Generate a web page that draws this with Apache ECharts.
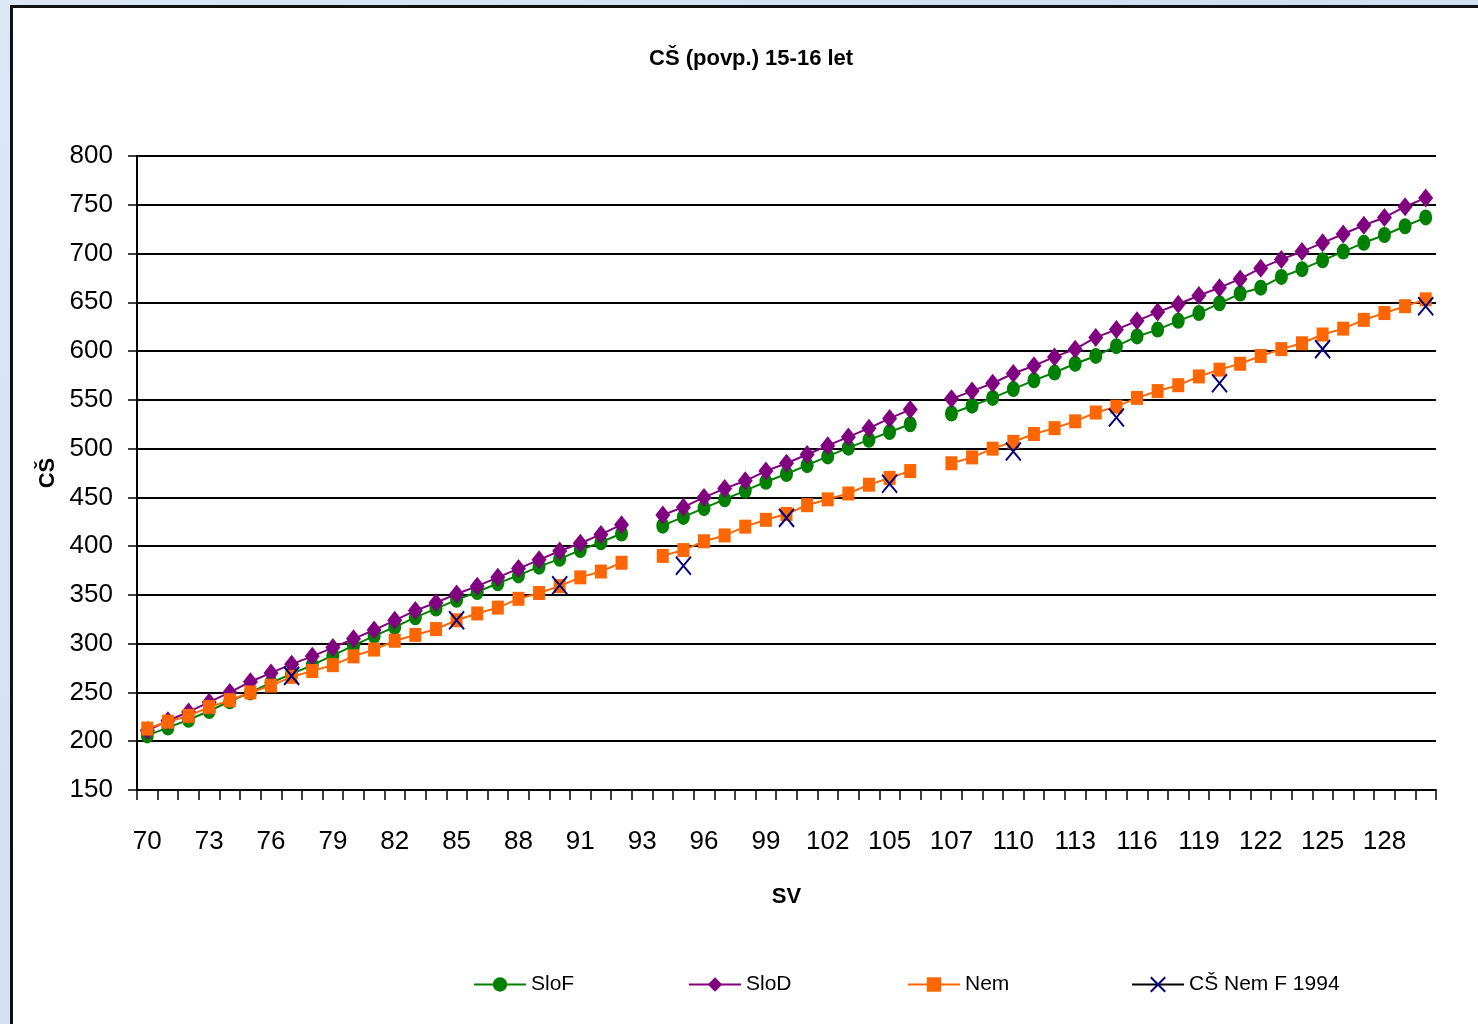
<!DOCTYPE html>
<html>
<head>
<meta charset="utf-8">
<title>CŠ (povp.) 15-16 let</title>
<script src="https://cdn.jsdelivr.net/npm/echarts@6/dist/echarts.min.js"></script>
<style>
  html, body { margin: 0; padding: 0; }
  body {
    width: 1478px; height: 1024px; overflow: hidden; position: relative;
    background: linear-gradient(135deg, #dbe7f5 0%, #cfdff1 50%, #dde9f6 100%);
  }
  #frame {
    position: absolute; left: 10px; top: 5px; width: 1500px; height: 1040px;
    border: 3px solid #111; background: #fff;
  }
  #main { position: absolute; left: 0; top: 0; width: 1478px; height: 1024px; }
</style>
</head>
<body>
<div id="frame"></div>
<div id="main"></div>
<script>
// SV kategorije (prazna vrstica za 93 in 106 loči odseke)
const sv = [
  '70','71','72','73','74','75','76','77','78','79','80','81','82','83','84','85',
  '86','87','88','89','90','91','92','93','93',
  '94','95','96','97','98','99','100','101','102','103','104','105','106','106',
  '107','108','109','110','111','112','113','114','115','116','117','118','119',
  '120','121','122','123','124','125','126','127','128','129','130'
]

const sloF = [
  206, 214, 222, 231, 241, 250, 260, 269, 278, 288, 298, 308, 317, 327, 336, 345,
  353, 362, 370, 379, 387, 396, 404, 413, null,
  421, 430, 439, 448, 457, 466, 474, 483, 492, 501, 509, 517, 525, null,
  536, 544, 552, 561, 570, 578, 587, 595, 605, 615, 622, 631, 639,
  649, 659, 665, 676, 684, 693, 702, 711, 719, 728, 737
]

const sloD = [
  211, 221, 230, 240, 250, 261, 270, 279, 287, 296, 305, 314, 324, 334, 342, 351,
  359, 368, 377, 386, 395, 403, 412, 422, null,
  432, 440, 450, 459, 467, 477, 485, 494, 503, 512, 521, 531, 540, null,
  551, 559, 567, 577, 585, 594, 602, 614, 622, 631, 640, 648, 657,
  665, 674, 685, 694, 702, 711, 720, 729, 737, 748, 757
]

const nem = [
  213, 220, 226, 235, 242, 250, 257, 266, 272, 278, 287, 294, 303, 309, 315, 324,
  331, 337, 346, 352, 359, 368, 374, 383, null,
  390, 396, 405, 411, 420, 427, 433, 442, 448, 454, 463, 470, 477, null,
  485, 491, 500, 507, 515, 521, 528, 537, 543, 552, 559, 565, 574,
  581, 587, 595, 602, 608, 617, 623, 632, 639, 646, 653
]

const nemF1994 = [
  null, null, null, null, null, null, null, 267, null, null, null, null, null, null, null, 324,
  null, null, null, null, 360, null, null, null, null,
  null, 380, null, null, null, null, 429, null, null, null, null, 464, null, null,
  null, null, null, 497, null, null, null, null, 532, null, null, null, null,
  567, null, null, null, null, 602, null, null, null, null, 646
]

const yTicks = { min: 150, max: 800, interval: 50 }

const seriesNames = ['SloF', 'SloD', 'Nem', 'CŠ Nem F 1994']
const legendLeft = [468, 683, 902, 1126]

const font = '"Liberation Sans Narrow", "Liberation Sans", sans-serif'

const myChart = echarts.init(document.getElementById('main'), null, { renderer: 'canvas' })

myChart.setOption({
  animation: false,
  title: {
    text: 'CŠ (povp.) 15-16 let',
    left: 644,
    top: 43,
    textStyle: { fontFamily: font, fontSize: 22, fontWeight: 'bold', color: '#000' }
  },
  // vsaka legenda posebej, da so razmiki kot v originalu
  legend: seriesNames.map((n, i) => ({
    left: legendLeft[i],
    top: 969,
    itemWidth: 52,
    itemHeight: 18,
    textStyle: { fontFamily: font, fontSize: 21, color: '#000' },
    data: [n]
  })),
  grid: { left: 137, top: 156, right: 42, bottom: 234, containLabel: false },
  xAxis: {
    type: 'category',
    data: sv,
    boundaryGap: true,
    name: 'SV',
    nameLocation: 'middle',
    nameGap: 96,
    nameTextStyle: { fontFamily: font, fontSize: 22, fontWeight: 'bold', color: '#000' },
    axisLine: { lineStyle: { color: '#000', width: 2 } },
    axisTick: { show: true, interval: 0, length: 10, lineStyle: { color: '#000', width: 1.5 } },
    axisLabel: { interval: 2, margin: 39, fontFamily: font, fontSize: 26, color: '#000' },
    splitLine: { show: false }
  },
  yAxis: {
    type: 'value',
    min: yTicks.min,
    max: yTicks.max,
    interval: yTicks.interval,
    name: 'CŠ',
    nameLocation: 'middle',
    nameGap: 68,
    nameRotate: 90,
    nameTextStyle: { fontFamily: font, fontSize: 22, fontWeight: 'bold', color: '#000' },
    axisLine: { show: true, lineStyle: { color: '#000', width: 2 } },
    axisTick: { show: true, length: 9, lineStyle: { color: '#000', width: 1.5 } },
    axisLabel: { margin: 24, fontFamily: font, fontSize: 26, color: '#000' },
    splitLine: { lineStyle: { color: '#000', width: 2 } }
  },
  series: [
    {
      name: 'SloF',
      type: 'line',
      data: sloF,
      showAllSymbol: true,
      symbol: 'circle',
      symbolSize: [13, 16],
      itemStyle: { color: '#008000' },
      lineStyle: { color: '#008000', width: 2 },
      z: 2
    },
    {
      name: 'SloD',
      type: 'line',
      data: sloD,
      showAllSymbol: true,
      symbol: 'diamond',
      symbolSize: [15, 19],
      itemStyle: { color: '#800080' },
      lineStyle: { color: '#800080', width: 2 },
      z: 3
    },
    {
      name: 'Nem',
      type: 'line',
      data: nem,
      showAllSymbol: true,
      symbol: 'rect',
      symbolSize: [12, 14],
      itemStyle: { color: '#ff6600' },
      lineStyle: { color: '#ff6600', width: 2 },
      z: 4
    },
    {
      name: 'CŠ Nem F 1994',
      type: 'line',
      data: nemF1994,
      showAllSymbol: true,
      symbol: 'path://M0,0L10,10M10,0L0,10',
      symbolSize: [15, 18],
      itemStyle: { color: 'none', borderColor: '#000080', borderWidth: 2 },
      lineStyle: { color: '#000', width: 2 },
      z: 5
    }
  ]
})
</script>
</body>
</html>
